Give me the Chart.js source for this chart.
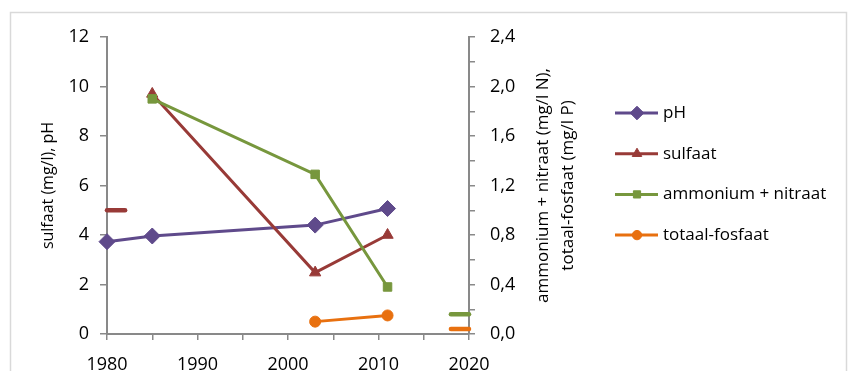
<!doctype html>
<html>
    <head>
        <meta charset="utf-8"/>
        <title>sulfaat pH nutrients</title>
        <style>
            html, body { margin: 0; padding: 0; background: #fff; }
            .chart-container { position: relative; width: 848px; height: 371px; }
        </style>
    </head>
    <body>
        <div class="chart-container">
            <canvas id="myChart" width="848" height="371"></canvas>
        </div>

        <script src="https://cdn.jsdelivr.net/npm/chart.js@4.4.1/dist/chart.umd.min.js"></script>

        <script>
            // data
            var yearsPH = [1980, 1985, 2003, 2011];
            var valuesPH = [3.73, 3.96, 4.40, 5.07];
            var yearsSulfaat = [1985, 2003, 2011];
            var valuesSulfaat = [9.7, 2.48, 4.0];
            var yearsAmmonium = [1985, 2003, 2011];
            var valuesAmmonium = [1.9, 1.29, 0.38];
            var yearsFosfaat = [2003, 2011];
            var valuesFosfaat = [0.1, 0.15];

            // short reference marks at the edges
            var yearsSulfaatRef = [1980, 1982];
            var valuesSulfaatRef = [5, 5];
            var yearsAmmoniumRef = [2018, 2020];
            var valuesAmmoniumRef = [0.16, 0.16];
            var yearsFosfaatRef = [2018, 2020];
            var valuesFosfaatRef = [0.04, 0.04];

            var seriesNames = ['pH', 'sulfaat', 'ammonium + nitraat', 'totaal-fosfaat'];
            var leftTitle = 'sulfaat (mg/l), pH';
            var rightTitle = ['ammonium + nitraat (mg/l N),', 'totaal-fosfaat (mg/l P)'];

            var purple = '#5f4a8b', red = '#983a37', green = '#77973d', orange = '#e8700f';
            var axisGray = '#898989';
            var FONT = "'Open Sans', 'DejaVu Sans', sans-serif";

            function pts(xs, ys) {
                return xs.map(function (x, i) { return {x: x, y: ys[i]}; });
            }

            // later series drawn on top, like the original
            function series(label, xs, ys, color, style, radius, axis, order) {
                return {
                    label: label,
                    data: pts(xs, ys),
                    yAxisID: axis,
                    order: order,
                    borderColor: color,
                    backgroundColor: color,
                    borderWidth: 3,
                    pointStyle: style,
                    pointRadius: radius,
                    pointBorderWidth: 1,
                    tension: 0,
                    clip: false
                };
            }

            function refMark(xs, ys, color, axis) {
                return {
                    label: '',
                    data: pts(xs, ys),
                    yAxisID: axis,
                    order: 0,
                    borderColor: color,
                    borderWidth: 4.5,
                    borderCapStyle: 'round',
                    pointRadius: 0,
                    clip: false,
                    isRef: true
                };
            }

            const data = {
                datasets: [
                    series(seriesNames[0], yearsPH, valuesPH, purple, 'rectRot', 8, 'y', 4),
                    series(seriesNames[1], yearsSulfaat, valuesSulfaat, red, 'triangle', 6.5, 'y', 3),
                    series(seriesNames[2], yearsAmmonium, valuesAmmonium, green, 'rect', 6, 'y1', 2),
                    series(seriesNames[3], yearsFosfaat, valuesFosfaat, orange, 'circle', 5.5, 'y1', 1),
                    refMark(yearsSulfaatRef, valuesSulfaatRef, red, 'y'),
                    refMark(yearsAmmoniumRef, valuesAmmoniumRef, green, 'y1'),
                    refMark(yearsFosfaatRef, valuesFosfaatRef, orange, 'y1')
                ]
            };

            // frame, right-hand title and legend
            const extras = {
                id: 'extras',
                beforeDraw: function (chart) {
                    var ctx = chart.ctx;
                    ctx.save();
                    ctx.strokeStyle = '#d9d9d9';
                    ctx.lineWidth = 1.5;
                    ctx.strokeRect(10.5, 12.5, 836, 400);
                    ctx.restore();
                },
                afterDraw: function (chart) {
                    var ctx = chart.ctx;
                    var area = chart.chartArea;
                    var right = chart.scales.y1;
                    ctx.save();
                    ctx.fillStyle = '#000';
                    ctx.font = '17px ' + FONT;
                    ctx.textAlign = 'center';
                    ctx.textBaseline = 'middle';
                    var midY = (area.top + area.bottom) / 2;
                    rightTitle.forEach(function (line, i) {
                        ctx.save();
                        ctx.translate(right.left + 74 + i * 25, midY);
                        ctx.rotate(-Math.PI / 2);
                        ctx.fillText(line, 0, 0);
                        ctx.restore();
                    });

                    var x0 = 615, y0 = 113, gap = 40.7;
                    chart.data.datasets.forEach(function (ds, i) {
                        if (ds.isRef) return;
                        var y = y0 + i * gap;
                        ctx.strokeStyle = ds.borderColor;
                        ctx.fillStyle = ds.backgroundColor;
                        ctx.lineWidth = 3;
                        ctx.beginPath();
                        ctx.moveTo(x0, y);
                        ctx.lineTo(x0 + 43, y);
                        ctx.stroke();
                        ctx.lineWidth = 1;
                        Chart.helpers.drawPoint(ctx, {
                            pointStyle: ds.pointStyle,
                            radius: ds.pointRadius * 0.85,
                            rotation: 0,
                            borderWidth: 1
                        }, x0 + 22, y);
                        ctx.fillStyle = '#000';
                        ctx.textAlign = 'left';
                        ctx.font = '17px ' + FONT;
                        ctx.fillText(ds.label, x0 + 48, y);
                    });
                    ctx.restore();
                }
            };

            const config = {
                type: 'line',
                data: data,
                plugins: [extras],
                options: {
                    responsive: false,
                    animation: false,
                    events: [],
                    layout: { padding: { left: 0, top: 37, right: 269, bottom: 0 } },
                    plugins: {
                        legend: { display: false },
                        tooltip: { enabled: false }
                    },
                    scales: {
                        x: {
                            type: 'linear',
                            min: 1980,
                            max: 2020,
                            ticks: {
                                stepSize: 5,
                                padding: 14,
                                color: '#000',
                                font: { family: FONT, size: 18 },
                                maxRotation: 0,
                                autoSkip: false,
                                callback: function (v) { return v % 10 === 0 ? String(v) : ''; }
                            },
                            grid: { drawOnChartArea: false, tickLength: 6, color: axisGray, lineWidth: 1.5 },
                            border: { color: axisGray, width: 2 },
                            afterFit: function (scale) { scale.height = 37; }
                        },
                        y: {
                            position: 'left',
                            min: 0,
                            max: 12,
                            ticks: {
                                stepSize: 2,
                                padding: 11,
                                color: '#000',
                                font: { family: FONT, size: 18 }
                            },
                            grid: { drawOnChartArea: false, tickLength: 7, color: axisGray, lineWidth: 1.5 },
                            border: { color: axisGray, width: 2 },
                            title: {
                                display: true,
                                text: leftTitle,
                                color: '#000',
                                font: { family: FONT, size: 16 },
                                padding: { top: 39, bottom: 0 }
                            },
                            afterFit: function (scale) { scale.width = 107; }
                        },
                        y1: {
                            position: 'right',
                            min: 0,
                            max: 2.4,
                            ticks: {
                                stepSize: 0.2,
                                padding: 15,
                                color: '#000',
                                font: { family: FONT, size: 18 },
                                callback: function (v) {
                                    var t = Math.round(v * 10);
                                    return t % 4 === 0 ? (t / 10).toFixed(1).replace('.', ',') : '';
                                }
                            },
                            grid: { drawOnChartArea: false, tickLength: 6, color: axisGray, lineWidth: 1.5 },
                            border: { color: axisGray, width: 2 },
                            afterFit: function (scale) { scale.width = 110; }
                        }
                    }
                }
            };

            var myChart = new Chart(document.getElementById('myChart'), config);
        </script>
    </body>
</html>
